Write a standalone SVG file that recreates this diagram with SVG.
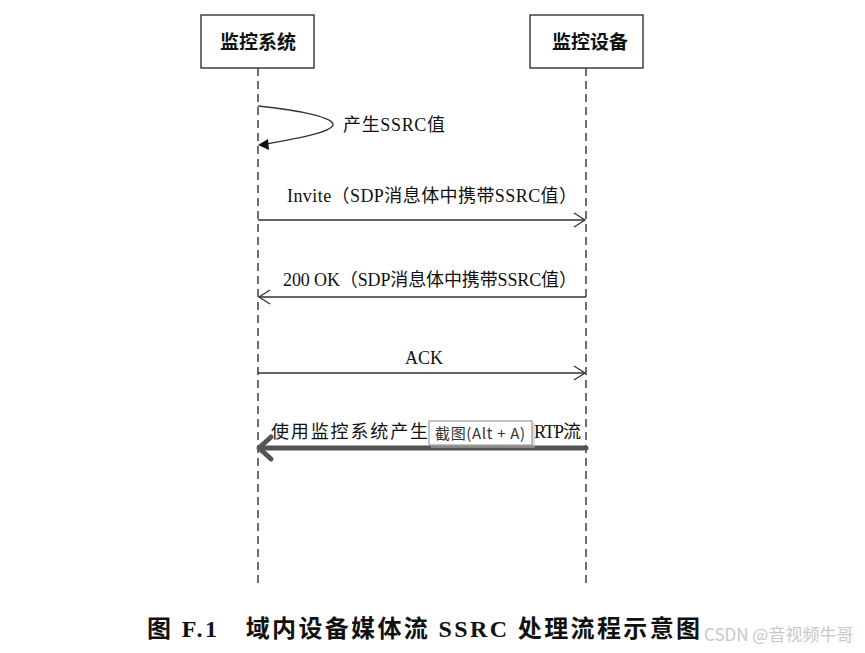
<svg xmlns="http://www.w3.org/2000/svg" width="865" height="653" viewBox="0 0 865 653">
<style>
.box{fill:#fff;stroke:#222;stroke-width:1.3}
.life{stroke:#222;stroke-width:1.3;stroke-dasharray:8 5;fill:none}
.msg{stroke:#333;stroke-width:1.3;fill:none}
.t{font-family:"Liberation Serif","Noto Sans CJK SC",serif;font-size:18px;fill:#111}
.h{font-family:"Liberation Serif","Noto Sans CJK SC",serif;font-size:19px;font-weight:bold;fill:#111}
.cap{font-family:"Liberation Serif","Noto Sans CJK SC",serif;font-size:24px;font-weight:bold;fill:#111}
</style>
<rect width="865" height="653" fill="#fff"/>
<g id="node-system">
<rect class="box" x="201" y="15" width="113" height="53"/>
<text class="h" x="258" y="49" text-anchor="middle">监控系统</text>
</g>
<g id="node-device">
<rect class="box" x="530" y="15" width="113" height="53"/>
<text class="h" x="590" y="49" text-anchor="middle">监控设备</text>
</g>
<g id="connectors">
<line class="life" x1="258" y1="68" x2="258" y2="586"/>
<line class="life" x1="586" y1="68" x2="586" y2="586"/>
<path class="msg" d="M258,106 C300,110 335,118 333,125 C331,132 300,138 266,144"/>
<path d="M258,145 L268,139 L269,150 Z" fill="#111"/>
<text class="t" x="343" y="131" textLength="102">产生SSRC值</text>
<line class="msg" x1="258" y1="220" x2="585" y2="220"/>
<path class="msg" d="M574,213 L585,220 L574,227"/>
<text class="t" x="287" y="202" textLength="290">Invite（SDP消息体中携带SSRC值）</text>
<line class="msg" x1="259" y1="297" x2="586" y2="297"/>
<path class="msg" d="M270,290 L259,297 L270,304"/>
<text class="t" x="283" y="286" textLength="294">200 OK（SDP消息体中携带SSRC值）</text>
<line class="msg" x1="258" y1="373" x2="585" y2="373"/>
<path class="msg" d="M574,366 L585,373 L574,380"/>
<text class="t" x="424" y="364" text-anchor="middle">ACK</text>
<line x1="261" y1="448" x2="586" y2="448" stroke="#555" stroke-width="5" stroke-linecap="round"/>
<path d="M271,437 L259,448 L271,459" fill="none" stroke="#555" stroke-width="5" stroke-linecap="round" stroke-linejoin="round"/>
<text class="t" x="271" y="438" font-size="19" textLength="157">使用监控系统产生</text>
<text class="t" x="534" y="438" font-size="19" textLength="47">RTP流</text>
</g>
<g id="tooltip">
<rect x="431" y="423" width="104" height="25" fill="#bbb" opacity="0.5"/>
<rect x="429" y="421" width="103" height="24" fill="#fff" stroke="#888" stroke-width="1"/>
<text x="435" y="439" font-family="'Noto Sans CJK SC','Noto Sans',sans-serif" font-size="15" fill="#333" textLength="90">截图(Alt + A)</text>
</g>
<text class="cap" x="147" y="637" textLength="553">图 F.1　域内设备媒体流 SSRC 处理流程示意图</text>
<text x="704" y="641" font-family="'Noto Sans CJK SC',sans-serif" font-size="17" fill="#bbb" opacity="0.8">CSDN @音视频牛哥</text>
</svg>
